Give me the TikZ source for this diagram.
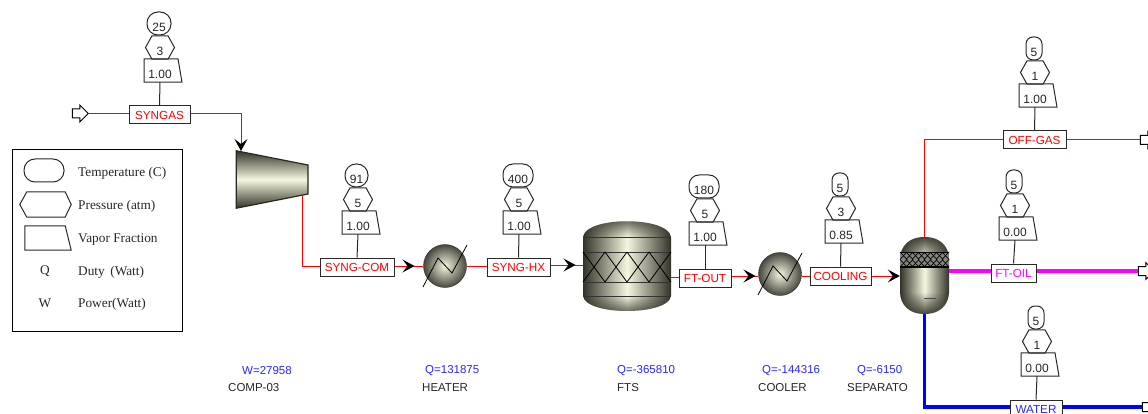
\documentclass[tikz,border=0pt]{standalone}
\usepackage{fontspec}
\setmainfont{Liberation Sans}
\newfontfamily\legendfont{Liberation Serif}
\usetikzlibrary{arrows.meta,shapes.arrows,decorations.markings,fadings}
\definecolor{metaldark}{RGB}{50,50,40}
\definecolor{metallight}{RGB}{246,246,224}
\definecolor{lineblue}{RGB}{0,0,255}
\definecolor{textblue}{RGB}{40,40,255}
\definecolor{linepink}{RGB}{255,0,255}
\definecolor{tagline}{RGB}{40,40,40}
\tikzset{
  tiphead/.tip={Stealth[black,length=12pt,width=13pt,inset=5pt]},
  tipat/.style={postaction={decorate,decoration={markings,mark=at position #1 with {\arrow{tiphead}}}}},
  stream/.style={draw=red,line width=1pt},
  oilstream/.style={draw=linepink,line width=3.5pt},
  waterstream/.style={draw=lineblue,line width=3.5pt},
  tagpath/.style={draw=tagline,line width=1pt},
  tagtext/.style={inner sep=0pt,text=black!85,text height=16pt,text depth=0pt,font=\fontsize{12}{14}\selectfont},
  streambox/.style={draw=tagline,line width=1pt,fill=white,inner sep=0pt,minimum height=18pt,font=\fontsize{11.7}{14}\selectfont},
  heaterunit/.style={circle,inner sep=0pt,minimum size=43pt,draw=metaldark,inner color=metallight,outer color=metaldark!90},
  vesselfill/.style={left color=metaldark,right color=metaldark,middle color=metallight},
  domeshade/.style={fill=metaldark,fill opacity=0.9},
  portarrow/.style={single arrow,draw=black,fill=white,line width=1pt,inner sep=0pt,text height=8pt,text depth=0pt,text width=6pt,minimum height=16pt,single arrow head extend=4pt,single arrow head indent=0pt},
  unitlabel/.style={anchor=west,inner sep=0pt,font=\fontsize{11.5}{14}\selectfont},
  legendtext/.style={anchor=west,inner sep=0pt,text=black!85,font=\legendfont\fontsize{13.3}{15}\selectfont}
}
\begin{document}
\begin{tikzpicture}[x=1pt,y=-1pt]
\useasboundingbox (0,0) rectangle (1148,414);
% legend
\node [draw=black,line width=1pt,minimum width=170pt,minimum height=181pt,inner sep=0pt] (legend) at (97,240.5) {};
\node [tagpath,rounded corners=11pt,minimum width=40pt,minimum height=23pt,inner sep=0pt] (legtemp) at (44,170.5) {};
\node [inner sep=0pt,minimum width=51pt,minimum height=25pt] (legpres) at (45.5,204.5) {};
\draw [tagpath] (legpres.west) -- ([xshift=7pt]legpres.north west) -- ([xshift=-6pt]legpres.north east) -- (legpres.east) -- ([xshift=-6pt]legpres.south east) -- ([xshift=7pt]legpres.south west) -- cycle;
\node [inner sep=0pt,minimum width=46pt,minimum height=24pt] (legvap) at (48,238) {};
\draw [tagpath] (legvap.north west) -- ([xshift=-6pt]legvap.north east) -- (legvap.south east) -- (legvap.south west) -- cycle;
\node [legendtext,anchor=center] (legq) at (45,271.5) {Q};
\node [legendtext,anchor=center] (legw) at (45,303.5) {W};
\node [legendtext] (txttemp) at (78,173) {Temperature (C)};
\node [legendtext] (txtpres) at (78,206) {Pressure (atm)};
\node [legendtext] (txtvap) at (78,239.5) {Vapor Fraction};
\node [legendtext] (txtq) at (78,272) {Duty\, (Watt)};
\node [legendtext] (txtw) at (78,304) {Power(Watt)};
% compressor
\node [inner sep=0pt,minimum width=71pt,minimum height=57pt] (comp) at (272,179.5) {};
\draw [draw=metaldark!80!black,line width=1.2pt,top color=metaldark,bottom color=metaldark,middle color=metallight] (comp.north west) -- (308,165) -- (308,194) -- (comp.south west) -- cycle;
\coordinate (compin) at (241,151);
\coordinate (compout) at (302,195);
% heaters
\node [heaterunit] (heater) at (445,266) {};
\node [heaterunit] (cooler) at (780,274) {};
\foreach \hx in {heater,cooler}
  \draw [line width=0.8pt,black] ([shift={(-22,21)}]\hx.center) -- ([shift={(-7,-8)}]\hx.center) -- ([shift={(7,7)}]\hx.center) -- ([shift={(22,-21)}]\hx.center);
% reactor
\node [inner sep=0pt,minimum width=88pt,minimum height=88pt] (fts) at (627,266) {};
\path [vesselfill] (583,237) .. controls (586,216) and (668,216) .. (671,237) -- (671,296) .. controls (668,316) and (586,316) .. (583,296) -- cycle;
\path [domeshade,path fading=south] (583,237) .. controls (586,216) and (668,216) .. (671,237) -- cycle;
\path [domeshade,path fading=north] (583,296) .. controls (586,316) and (668,316) .. (671,296) -- cycle;
\foreach \ly in {237,252,282,296}
  \draw [line width=1pt,black!80] (583,\ly) -- (671,\ly);
\foreach \cx in {583,605,627,649} {
  \draw [line width=0.8pt,black] (\cx,252) -- (\cx+22,282);
  \draw [line width=0.8pt,black] (\cx,282) -- (\cx+22,252);
}
% separator
\node [vesselfill,rounded corners=22pt,minimum width=49pt,minimum height=77pt,inner sep=0pt] (sep) at (924.5,275.5) {};
\path [domeshade,path fading=south] (900,259) .. controls (900,243) and (913,237) .. (924.5,237) .. controls (936,237) and (949,243) .. (949,259) -- cycle;
\path [domeshade,path fading=north] (900,292) .. controls (900,308) and (913,314) .. (924.5,314) .. controls (936,314) and (949,308) .. (949,292) -- cycle;
\fill [metaldark!60] (900,252) rectangle (949,267);
\foreach \ry in {252,259.5} \foreach \cx in {900,906,912,918,924,930,936,942} {
  \draw [line width=0.7pt,black] (\cx,\ry) -- (\cx+7,\ry+7.5);
  \draw [line width=0.7pt,black] (\cx,\ry+7.5) -- (\cx+7,\ry);
}
\draw [line width=1pt,black] (900,252) -- (949,252);
\draw [line width=1.2pt,black] (900,267) -- (949,267);
\draw [line width=0.7pt,black!70] (924,298) -- (936,298);
% stream tags
\foreach \id/\lab/\xl/\xr/\yt/\xs/\tl/\tr/\tc/\Tv/\Pv/\Vv/\col in {
  syngas/SYNGAS/129/190/106/160/13/11/11/25/3/1.00/red,
  syngcom/SYNG-COM/320/394/258/358/13/10/11/91/5/1.00/red,
  synghx/SYNG-HX/487/550/258/519/16/14/10/400/5/1.00/red,
  ftout/FT-OUT/679/731/269/705/16/14/10/180/5/1.00/red,
  cooling/COOLING/810/871/267/841/9/7/7/5/3/0.85/red,
  offgas/OFF-GAS/1003/1066/131/1035/9/7/7/5/1/1.00/red,
  ftoil/FT-OIL/991/1036/264/1015/9/7/7/5/1/0.00/linepink,
  water/WATER/1010/1062/400/1037/9/7/7/5/1/0.00/textblue} {
  \node [streambox,text=\col,minimum width=\xr-\xl] (\id) at ({(\xl+\xr)/2},\yt+9) {\lab};
  \node [tagtext,minimum height=23pt] (v\id) at (\xs,\yt-35.5) {\Vv};
  \draw [tagpath] ([xshift=-16pt]v\id.north) -- ([xshift=18pt]v\id.north) -- ([xshift=22pt]v\id.south) -- ([xshift=-16pt]v\id.south) -- cycle;
  \node [tagtext,minimum height=23pt] (p\id) at (\xs,\yt-58.5) {\Pv};
  \draw [tagpath] ([xshift=-14.5pt]p\id.center) -- ([xshift=-8pt]p\id.north) -- ([xshift=8pt]p\id.north) -- ([xshift=14.5pt]p\id.center) -- ([xshift=8pt]p\id.south) -- ([xshift=-8pt]p\id.south) -- cycle;
  \node [tagpath,tagtext,rounded corners=\tc pt,minimum height=23pt,minimum width=\tl+\tr] (t\id) at (\xs+\tr/2-\tl/2,\yt-82.5) {\Tv};
  \draw [tagpath] (v\id.south) -- (\id.north);
}
% ports
\node [portarrow] (feed) at (78,113.5) {};
\node [portarrow] (gasout) at (1146,140) {};
\node [portarrow] (oilout) at (1144,271) {};
\node [portarrow] (waterout) at (1148,407) {};
% streams
\draw [stream] (feed.tip) -- (feed.tip -| syngas.west);
\draw [stream,-tiphead] (feed.tip -| syngas.east) -| (compin);
\draw [stream] (compout) |- ([yshift=1pt]syngcom.west);
\draw [stream,tipat=20pt] ([yshift=1pt]syngcom.east) -- ([yshift=1pt]syngcom.east -| heater.west);
\draw [stream] ([yshift=1pt]synghx.west -| heater.east) -- ([yshift=1pt]synghx.west);
\draw [stream,tipat=25pt] ([yshift=2pt]synghx.east) -- ([yshift=2pt]synghx.east -| fts.west);
\draw [stream] ([yshift=1pt]ftout.west -| fts.east) -- ([yshift=1pt]ftout.west);
\draw [stream,tipat=24pt] ([yshift=2pt]ftout.east) -- ([yshift=2pt]ftout.east -| cooler.west);
\draw [stream] (cooling.west -| cooler.east) -- (cooling.west);
\draw [stream,-tiphead] (cooling.east) -- (cooling.east -| sep.west);
\draw [stream] (sep.north) |- (offgas.west);
\draw [stream] (offgas.east) -- (gasout.tail);
\draw [oilstream] (oilout.tail -| sep.east) -- (oilout.tail -| ftoil.west);
\draw [oilstream] (oilout.tail -| ftoil.east) -- (oilout.tail);
\draw [waterstream] (sep.south) |- (waterout.tail -| water.west);
\draw [waterstream] (waterout.tail -| water.east) -- (waterout.tail);
% duties
\foreach \id/\xv/\val/\xn/\unit in {
  comp/242/W=27958/228/COMP-03,
  heat/425/Q=131875/422/HEATER,
  reac/617/Q=-365810/617/FTS,
  cool/762/Q=-144316/758/COOLER,
  sepa/857/Q=-6150/847/SEPARATO} {
  \node [unitlabel,text=textblue] (val\id) at (\xv,371) {\val};
  \node [unitlabel,text=black!85] (name\id) at (\xn,388) {\unit};
}
\end{tikzpicture}
\end{document}
